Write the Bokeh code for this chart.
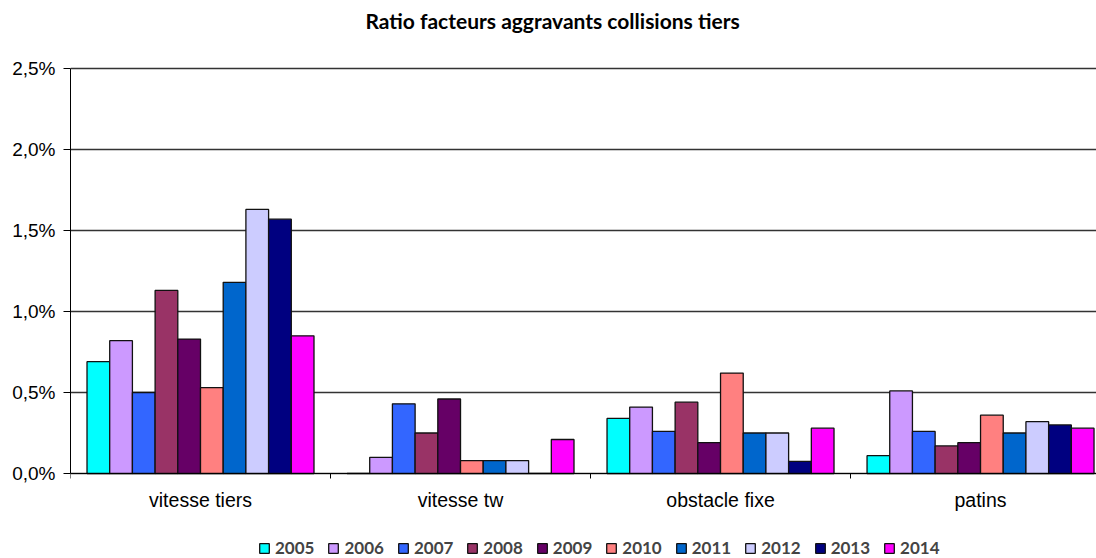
from bokeh.plotting import figure
from bokeh.models import (Range1d, FixedTicker, CustomJSTickFormatter, Legend,
                          LegendItem, ColumnDataSource, Label)
from bokeh.transform import dodge
from bokeh.embed import file_html
from bokeh.resources import INLINE

title_text = "Ratio facteurs aggravants collisions tiers"
categories = ["vitesse tiers", "vitesse tw", "obstacle fixe", "patins"]
years = ["2005", "2006", "2007", "2008", "2009", "2010", "2011", "2012", "2013", "2014"]
colors = ["#00FFFF", "#CC99FF", "#3366FF", "#993366", "#660066",
          "#FF8080", "#0066CC", "#CCCCFF", "#000080", "#FF00FF"]

# values in percent, per category (vitesse tiers, vitesse tw, obstacle fixe, patins)
v2005 = [0.69, 0.00, 0.34, 0.11]
v2006 = [0.82, 0.10, 0.41, 0.51]
v2007 = [0.50, 0.43, 0.26, 0.26]
v2008 = [1.13, 0.25, 0.44, 0.17]
v2009 = [0.83, 0.46, 0.19, 0.19]
v2010 = [0.53, 0.08, 0.62, 0.36]
v2011 = [1.18, 0.08, 0.25, 0.25]
v2012 = [1.63, 0.08, 0.25, 0.32]
v2013 = [1.57, 0.00, 0.075, 0.30]
v2014 = [0.85, 0.21, 0.28, 0.28]
series = [v2005, v2006, v2007, v2008, v2009, v2010, v2011, v2012, v2013, v2014]

y_ticks = [0.0, 0.5, 1.0, 1.5, 2.0, 2.5]

BAR_W = 0.0873

# frame covers the whole canvas height; the value axis spans 0..2.5 %
p = figure(width=1096, height=558, output_backend="svg", toolbar_location=None,
           title=None,
           x_range=Range1d(0, 3.946), y_range=Range1d(-0.5247, 2.9198),
           min_border_left=70, min_border_right=0, min_border_top=0,
           min_border_bottom=0)
p.outline_line_color = None
p.background_fill_color = "white"
p.border_fill_color = "white"

centers = [i + 0.5 for i in range(len(categories))]
renderers = []
for i, (yr, col, vals) in enumerate(zip(years, colors, series)):
    src = ColumnDataSource(dict(x=centers, top=vals))
    r = p.vbar(x=dodge("x", (i - 4.5) * BAR_W), top="top", bottom=0, width=BAR_W,
               source=src, fill_color=col, line_color="#111111", line_width=1.3)
    renderers.append((yr, r))

# y axis
p.yaxis.ticker = FixedTicker(ticks=y_ticks)
p.yaxis.bounds = (0, 2.5)
p.yaxis.formatter = CustomJSTickFormatter(code="return tick.toFixed(1).replace('.', ',') + '%'")
p.yaxis.major_label_text_font = "Liberation Sans"
p.yaxis.major_label_text_font_size = "19px"
p.yaxis.major_label_text_color = "black"
p.yaxis.major_tick_out = 7
p.yaxis.major_tick_in = 0
p.yaxis.minor_tick_line_color = None
p.yaxis.major_label_standoff = 8
p.yaxis.axis_line_color = "black"
p.yaxis.major_tick_line_color = "black"

# x axis (drawn at value 0)
p.xaxis.fixed_location = 0
p.xaxis.ticker = FixedTicker(ticks=centers, minor_ticks=[0, 1, 2, 3, 4])
p.xaxis.formatter = CustomJSTickFormatter(args=dict(cats=categories),
                                          code="return cats[Math.floor(tick)]")
p.xaxis.major_label_text_font = "Liberation Sans"
p.xaxis.major_label_text_font_size = "19.5px"
p.xaxis.major_label_text_color = "black"
p.xaxis.major_tick_out = 0
p.xaxis.major_tick_in = 0
p.xaxis.minor_tick_out = 5
p.xaxis.minor_tick_in = 0
p.xaxis.minor_tick_line_color = "black"
p.xaxis.major_label_standoff = 11
p.xaxis.axis_line_color = "black"

# grid
p.xgrid.grid_line_color = None
p.ygrid.ticker = FixedTicker(ticks=y_ticks)
p.ygrid.grid_line_color = "#333333"
p.ygrid.grid_line_width = 1.3

# title
title = Label(x=1.854, y=2.796, text=title_text, text_align="center",
              text_baseline="middle", text_font="Lato", text_font_style="bold",
              text_font_size="21px", text_color="black")
p.add_layout(title)

legend = Legend(items=[LegendItem(label=yr, renderers=[r]) for yr, r in renderers],
                orientation="horizontal", location=(188, 0),
                glyph_width=12, glyph_height=12, label_standoff=5, spacing=13,
                padding=0, margin=0, border_line_color=None, background_fill_alpha=0,
                label_text_font="Lato", label_text_font_style="bold",
                label_text_font_size="17px", label_height=12)
p.add_layout(legend)

open("out.html", "w").write(file_html(p, INLINE))
